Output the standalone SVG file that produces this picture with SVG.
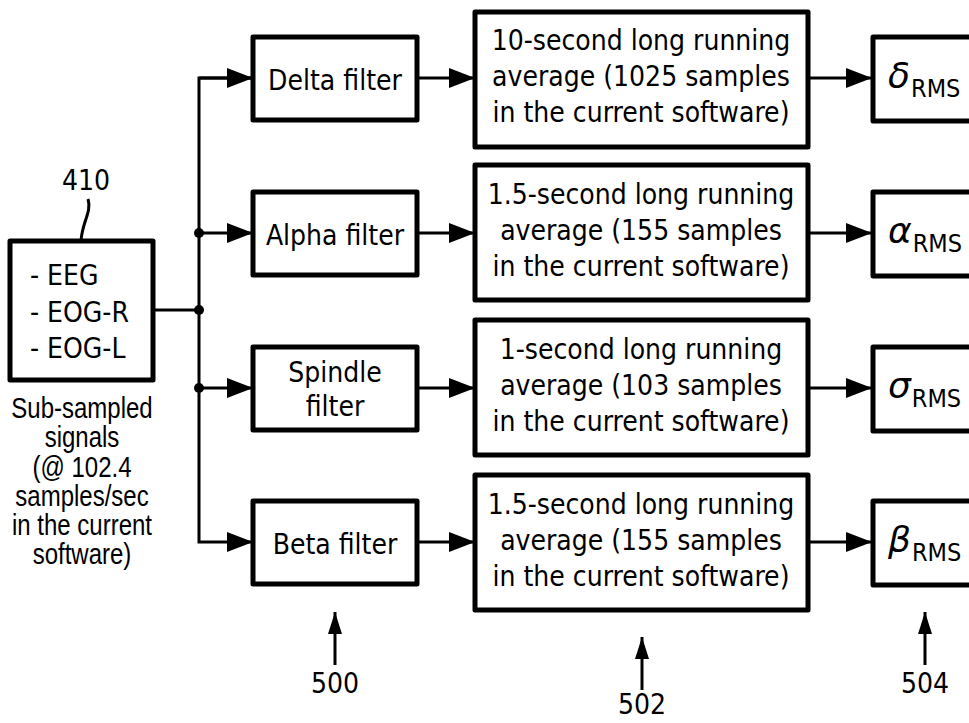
<svg xmlns="http://www.w3.org/2000/svg" width="969" height="723" viewBox="0 0 969 723">
<defs>
<marker id="ah" markerWidth="26" markerHeight="20" refX="26" refY="10" orient="auto" markerUnits="userSpaceOnUse">
<path d="M0,0 L26,10 L0,20 Z" fill="#000"/>
</marker>
<marker id="au" markerWidth="22" markerHeight="14" refX="22" refY="7" orient="auto" markerUnits="userSpaceOnUse">
<path d="M0,0 L22,7 L0,14 Z" fill="#000"/>
</marker>
<style>
.box{fill:#fff;stroke:#000;stroke-width:5;stroke-linejoin:round}
.ln{fill:none;stroke:#000;stroke-width:3}
.t{font-family:"DejaVu Sans Condensed","DejaVu Sans",sans-serif;font-size:28px;fill:#000;text-anchor:middle}
.s{font-family:"Liberation Sans",Arial,sans-serif;font-size:30px;fill:#000;text-anchor:middle}
.g{font-family:"DejaVu Sans","Noto Sans",sans-serif;font-style:italic;font-size:36px;fill:#000}
.r{font-family:"DejaVu Sans Condensed","DejaVu Sans",sans-serif;font-size:25px;fill:#000}
</style>
</defs>
<g id="connectors">
<line class="ln" x1="153" y1="310" x2="199" y2="310"/>
<polyline class="ln" points="253,78 199,78 199,542 253,542" marker-end="url(#ah)"/>
<line class="ln" x1="199" y1="78" x2="253" y2="78" marker-end="url(#ah)"/>
<line class="ln" x1="199" y1="233" x2="253" y2="233" marker-end="url(#ah)"/>
<line class="ln" x1="199" y1="388" x2="253" y2="388" marker-end="url(#ah)"/>
<circle cx="199" cy="233" r="5"/>
<circle cx="199" cy="310" r="5"/>
<circle cx="199" cy="388" r="5"/>
<line class="ln" x1="417" y1="78" x2="475" y2="78" marker-end="url(#ah)"/>
<line class="ln" x1="417" y1="233" x2="475" y2="233" marker-end="url(#ah)"/>
<line class="ln" x1="417" y1="388" x2="475" y2="388" marker-end="url(#ah)"/>
<line class="ln" x1="417" y1="542" x2="475" y2="542" marker-end="url(#ah)"/>
<line class="ln" x1="808" y1="78" x2="872" y2="78" marker-end="url(#ah)"/>
<line class="ln" x1="808" y1="233" x2="872" y2="233" marker-end="url(#ah)"/>
<line class="ln" x1="808" y1="388" x2="872" y2="388" marker-end="url(#ah)"/>
<line class="ln" x1="808" y1="542" x2="872" y2="542" marker-end="url(#ah)"/>
<line class="ln" x1="335" y1="665" x2="335" y2="612" marker-end="url(#au)"/>
<line class="ln" x1="642" y1="690" x2="642" y2="637" marker-end="url(#au)"/>
<line class="ln" x1="925" y1="665" x2="925" y2="612" marker-end="url(#au)"/>
<path class="ln" d="M88,199 C92,212 82,222 81,241" stroke-width="2.5"/>
</g>
<g id="input">
<rect class="box" x="10" y="241" width="143" height="139"/>
<text class="t" x="30" y="285" style="text-anchor:start">- EEG</text>
<text class="t" x="30" y="322" style="text-anchor:start">- EOG-R</text>
<text class="t" x="30" y="358" style="text-anchor:start">- EOG-L</text>
<text class="t" x="86" y="190">410</text>
<g transform="translate(82 0) scale(0.8 1)">
<text class="s" x="0" y="418">Sub-sampled</text>
<text class="s" x="0" y="447">signals</text>
<text class="s" x="0" y="477">(@ 102.4</text>
<text class="s" x="0" y="506">samples/sec</text>
<text class="s" x="0" y="535">in the current</text>
<text class="s" x="0" y="564">software)</text>
</g>
</g>
<g id="delta-filter">
<rect class="box" x="253" y="37" width="164" height="83"/>
<text class="t" x="335" y="90">Delta filter</text>
</g>
<g id="alpha-filter">
<rect class="box" x="253" y="192" width="164" height="83"/>
<text class="t" x="335" y="245">Alpha filter</text>
</g>
<g id="spindle-filter">
<rect class="box" x="253" y="347" width="164" height="83"/>
<text class="t" x="335" y="382">Spindle</text>
<text class="t" x="335" y="416">filter</text>
</g>
<g id="beta-filter">
<rect class="box" x="253" y="501" width="164" height="83"/>
<text class="t" x="335" y="554">Beta filter</text>
</g>
<g id="delta-avg">
<rect class="box" x="475" y="12" width="333" height="135"/>
<text class="t" x="641" y="50">10-second long running</text>
<text class="t" x="641" y="86">average (1025 samples</text>
<text class="t" x="641" y="122">in the current software)</text>
</g>
<g id="alpha-avg">
<rect class="box" x="475" y="165" width="333" height="135"/>
<text class="t" x="641" y="204">1.5-second long running</text>
<text class="t" x="641" y="240">average (155 samples</text>
<text class="t" x="641" y="276">in the current software)</text>
</g>
<g id="spindle-avg">
<rect class="box" x="475" y="320" width="333" height="135"/>
<text class="t" x="641" y="359">1-second long running</text>
<text class="t" x="641" y="395">average (103 samples</text>
<text class="t" x="641" y="431">in the current software)</text>
</g>
<g id="beta-avg">
<rect class="box" x="475" y="475" width="333" height="135"/>
<text class="t" x="641" y="514">1.5-second long running</text>
<text class="t" x="641" y="550">average (155 samples</text>
<text class="t" x="641" y="586">in the current software)</text>
</g>
<g id="delta-rms">
<rect class="box" x="873" y="37" width="110" height="84"/>
<text x="888" y="88"><tspan class="g">δ</tspan><tspan class="r" dx="1" dy="9">RMS</tspan></text>
</g>
<g id="alpha-rms">
<rect class="box" x="873" y="192" width="110" height="84"/>
<text x="888" y="243"><tspan class="g">α</tspan><tspan class="r" dx="1" dy="9">RMS</tspan></text>
</g>
<g id="sigma-rms">
<rect class="box" x="873" y="347" width="110" height="84"/>
<text x="888" y="398"><tspan class="g">σ</tspan><tspan class="r" dx="1" dy="9">RMS</tspan></text>
</g>
<g id="beta-rms">
<rect class="box" x="873" y="501" width="110" height="84"/>
<text x="888" y="552"><tspan class="g">β</tspan><tspan class="r" dx="1" dy="9">RMS</tspan></text>
</g>
<g id="labels">
<text class="t" x="335" y="693">500</text>
<text class="t" x="642" y="714">502</text>
<text class="t" x="925" y="693">504</text>
</g>
</svg>
